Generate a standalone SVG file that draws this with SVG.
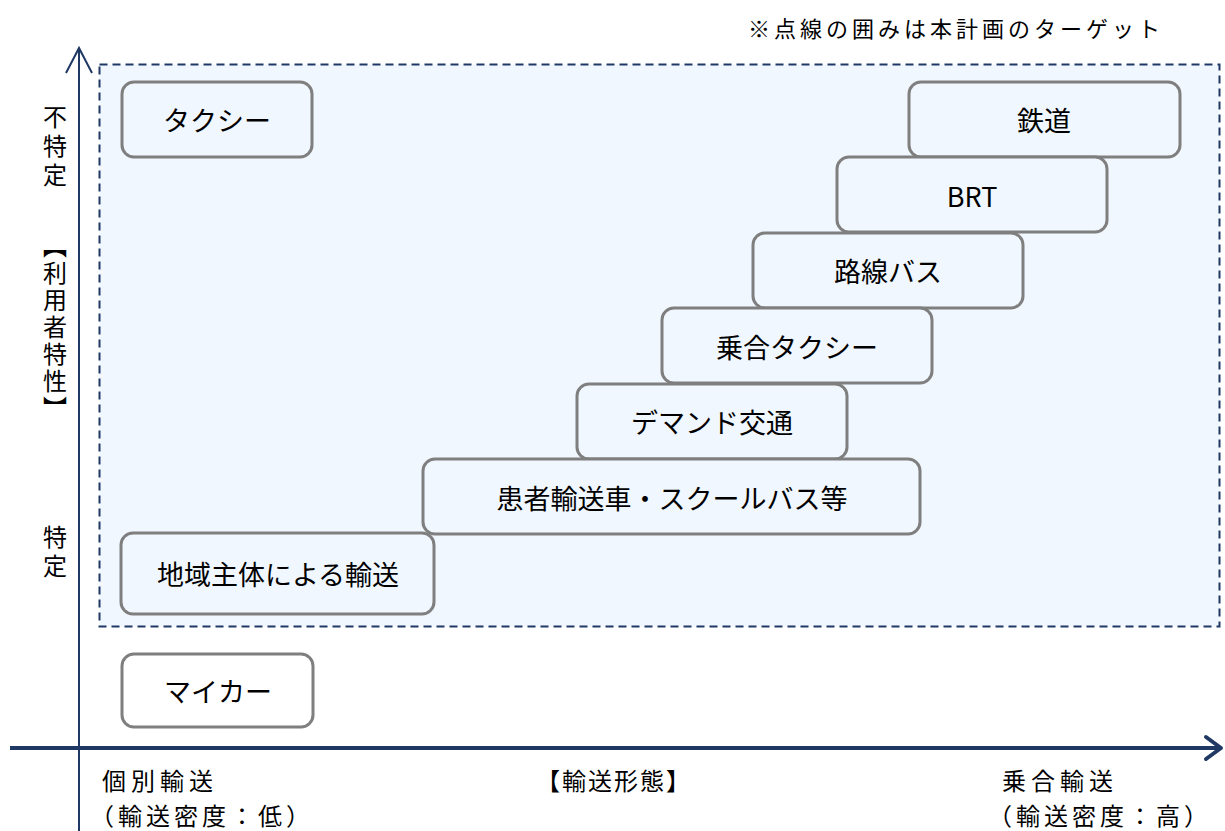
<svg xmlns="http://www.w3.org/2000/svg" width="1225" height="831" viewBox="0 0 1225 831">
<style>
text{font-family:"Noto Sans CJK JP","Noto Sans",sans-serif;fill:#000}
.box{fill:#F0F7FE;stroke:#7F7F7F;stroke-width:3}
.boxw{fill:#FFFFFF;stroke:#7F7F7F;stroke-width:3}
.lbl{font-size:27px;text-anchor:middle;dominant-baseline:central}
.ax{font-size:24px}
.vt{font-size:24px;writing-mode:vertical-rl;text-orientation:upright}
.axis{stroke:#1F3864;fill:none}
</style>
<rect width="1225" height="831" fill="#FFFFFF"/>
<g id="target-area">
<rect x="99.5" y="64.5" width="1120" height="562" fill="#F0F7FE" stroke="#1F3864" stroke-width="2" stroke-dasharray="8 5"/>
</g>
<g id="axes">
<line class="axis" x1="79" y1="49" x2="79" y2="831" stroke-width="2"/>
<polyline class="axis" points="66,73 79,48 92,73" stroke-width="2"/>
<line class="axis" x1="10" y1="748" x2="1220" y2="748" stroke-width="4"/>
<polyline class="axis" points="1206,737 1221,748 1206,759" stroke-width="4" stroke-linejoin="round" stroke-linecap="round"/>
</g>
<text x="748" y="37" font-size="22" letter-spacing="4">※点線の囲みは本計画のターゲット</text>
<g id="n-taxi"><rect class="box" x="122" y="82" width="190" height="75" rx="12"/><text class="lbl" x="217" y="119">タクシー</text></g>
<g id="n-rail"><rect class="box" x="909" y="82" width="271" height="75" rx="12"/><text class="lbl" x="1044" y="119">鉄道</text></g>
<g id="n-brt"><rect class="box" x="837" y="157" width="270" height="75" rx="12"/><text class="lbl" x="972" y="195">BRT</text></g>
<g id="n-bus"><rect class="box" x="753" y="233" width="270" height="75" rx="12"/><text class="lbl" x="888" y="270">路線バス</text></g>
<g id="n-sharetaxi"><rect class="box" x="662" y="308" width="270" height="75" rx="12"/><text class="lbl" x="797" y="346">乗合タクシー</text></g>
<g id="n-demand"><rect class="box" x="577" y="384" width="270" height="75" rx="12"/><text class="lbl" x="712" y="421">デマンド交通</text></g>
<g id="n-patient"><rect class="box" x="423" y="459" width="497" height="75" rx="12"/><text class="lbl" x="672" y="497">患者輸送車・スクールバス等</text></g>
<g id="n-local"><rect class="box" x="121" y="533" width="313" height="81" rx="12"/><text class="lbl" x="278" y="573" font-size="29">地域主体による輸送</text></g>
<g id="n-mycar"><rect class="boxw" x="122" y="654" width="191" height="73" rx="12"/><text class="lbl" x="218" y="690">マイカー</text></g>
<text class="vt" x="55" y="105" letter-spacing="5">不特定</text>
<text class="vt" x="55" y="234" letter-spacing="3">【利用者特性】</text>
<text class="vt" x="55" y="525" letter-spacing="5">特定</text>
<text class="ax" x="102" y="790" letter-spacing="5">個別輸送</text>
<text class="ax" x="90" y="825" font-size="23" letter-spacing="4">（輸送密度：低）</text>
<text class="ax" x="614" y="790" text-anchor="middle" font-size="26" letter-spacing="2">【輸送形態】</text>
<text class="ax" x="1002" y="790" letter-spacing="5">乗合輸送</text>
<text class="ax" x="988" y="825" font-size="23" letter-spacing="4">（輸送密度：高）</text>
</svg>
